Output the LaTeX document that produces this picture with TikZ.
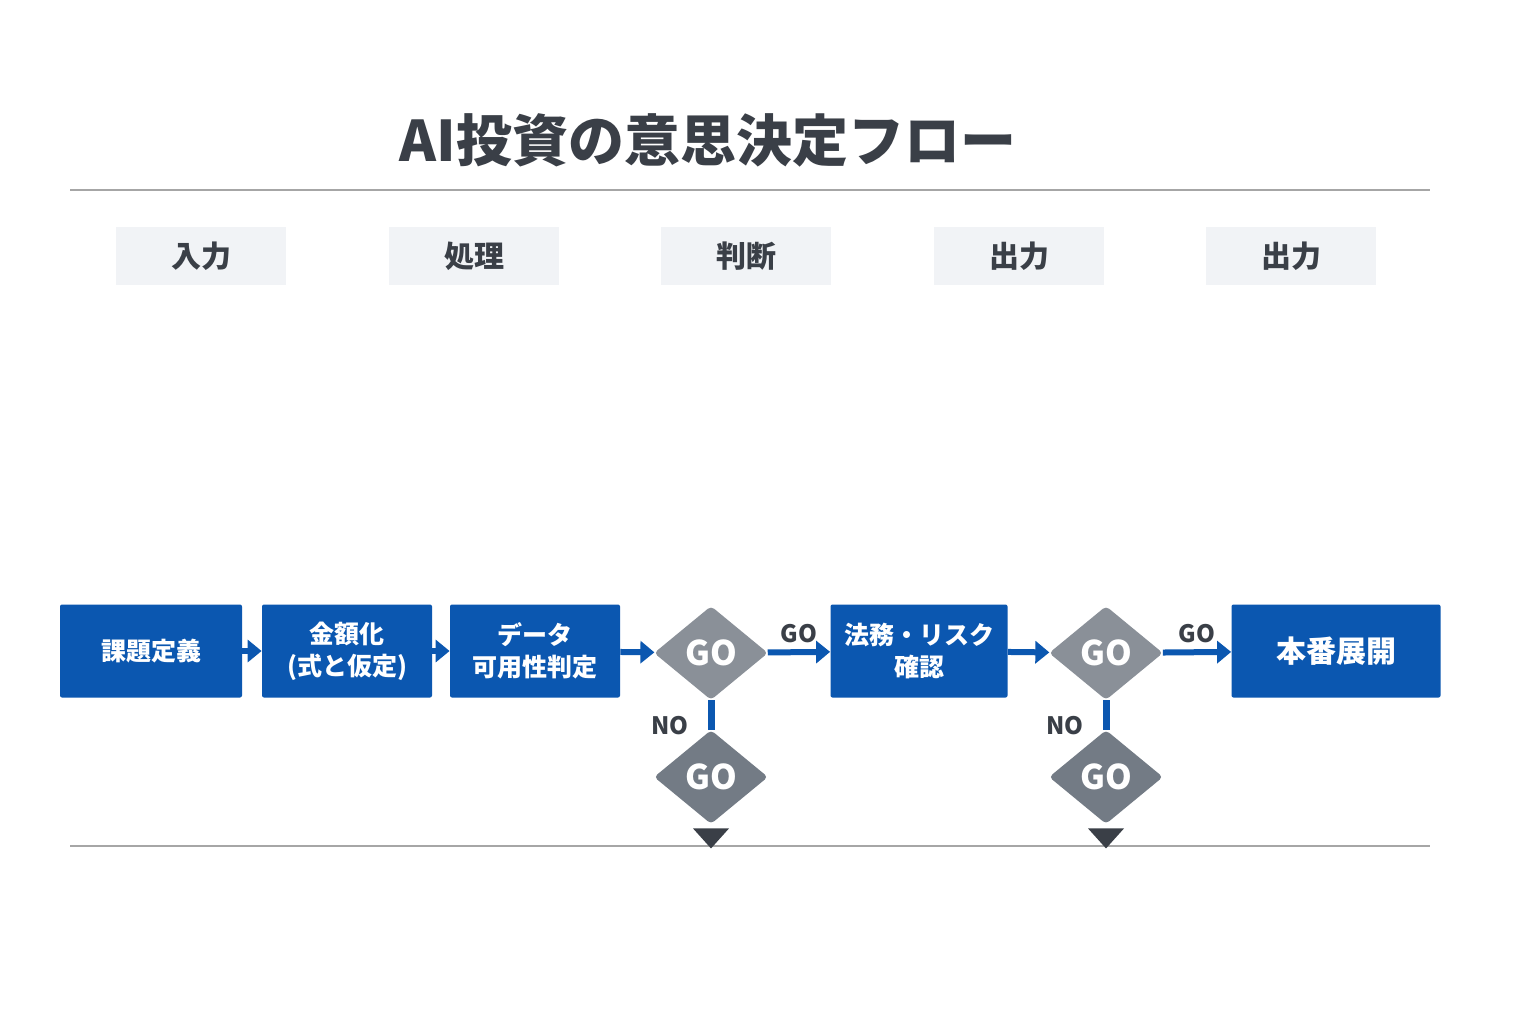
\documentclass[tikz,border=0pt]{standalone}
\usepackage{fontspec}
\setmainfont{Noto Sans CJK JP}
\usetikzlibrary{shapes.geometric,arrows.meta,positioning}
\definecolor{flowblue}{HTML}{0B57B0}
\definecolor{headgray}{HTML}{F1F3F6}
\definecolor{dgray}{HTML}{8A9098}
\definecolor{lgray}{HTML}{737B85}
\definecolor{ink}{HTML}{3A3F47}
\tikzset{
  head/.style={fill=headgray, minimum width=85pt, minimum height=29pt, font=\fontsize{15}{18}\selectfont\bfseries, text=ink},
  task/.style={fill=flowblue, rounded corners=1pt, minimum height=46.5pt, text=white, font=\fontsize{12.5}{16}\selectfont\bfseries, align=center},
  gate/.style={diamond, fill=#1, minimum width=57pt, minimum height=47pt, inner sep=0pt, text=white, font=\fontsize{17}{18}\selectfont\bfseries, rounded corners=2pt},
  link/.style={flowblue, line width=3pt, -{Triangle[length=7pt,width=11pt]}},
  tag/.style={font=\fontsize{12}{14}\selectfont\bfseries, text=ink}
}
\begin{document}
\begin{tikzpicture}[x=0.5pt,y=-0.5pt]
  \useasboundingbox[fill=white] (0,0) rectangle (1536,1024);
  % Title and rules
  \node[font=\fontsize{28}{32}\selectfont\bfseries, text=ink] (title) at (708,140) {AI投資の意思決定フロー};
  \draw[gray!70, line width=0.6pt] (70,190) -- (1430,190);
  \draw[gray!70, line width=0.6pt] (70,846) -- (1430,846);
  % Column headers
  \foreach \x/\t [count=\i] in {201/入力, 474/処理, 746/判断, 1019/出力, 1291/出力}
    \node[head] (h\i) at (\x,256) {\t};
  % Steps
  \node[task, minimum width=91pt] (s1) at (151,651) {課題定義};
  \node[task, minimum width=85pt] (s2) at (347,651) {金額化\\(式と仮定)};
  \node[task, minimum width=85pt] (s3) at (535,651) {データ\\可用性判定};
  \node[gate=dgray] (g1) at (711,653) {GO};
  \node[task, minimum width=88.5pt] (s4) at (919,651) {法務・リスク\\確認};
  \node[gate=dgray] (g2) at (1106,653) {GO};
  \node[task, minimum width=104.5pt, font=\fontsize{15}{18}\selectfont\bfseries] (s5) at (1336,651) {本番展開};
  % Fallback gates
  \node[gate=lgray] (n1) at (711,777) {GO};
  \node[gate=lgray] (n2) at (1106,777) {GO};
  \foreach \n in {n1,n2}
    \fill[ink] ([xshift=-9pt,yshift=-2pt]\n.south) -- ([xshift=9pt,yshift=-2pt]\n.south) -- ([yshift=-12pt]\n.south) -- cycle;
  % Connectors
  \draw[link] (s1) -- (s2);
  \draw[link] (s2) -- (s3);
  \draw[link] (s3) -- (g1);
  \draw[link] (g1) -- node[tag, above] {GO} (s4);
  \draw[link] (s4) -- (g2);
  \draw[link] (g2) -- node[tag, above] {GO} (s5);
  \draw[flowblue, line width=3.5pt] (g1) -- node[tag, pos=0.85, left=6pt] {NO} (n1);
  \draw[flowblue, line width=3.5pt] (g2) -- node[tag, pos=0.85, left=6pt] {NO} (n2);
\end{tikzpicture}
\end{document}
